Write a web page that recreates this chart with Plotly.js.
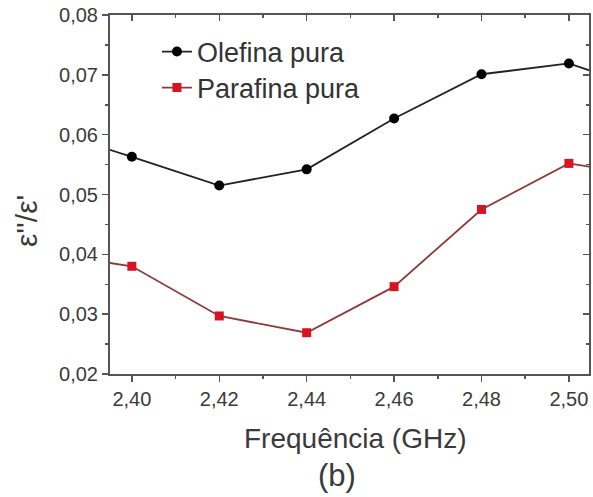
<!DOCTYPE html>
<html>
<head>
<meta charset="utf-8">
<script src="https://cdn.plot.ly/plotly-3.0.1.min.js"></script>
<style>html,body{margin:0;padding:0;background:#fff;}#chart{width:593px;height:497px;}</style>
</head>
<body>
<div id="chart"></div>
<script>
// Frequency (GHz); first and last points lie just outside the visible range (line continues to the frame)
const freq = [2.38, 2.40, 2.42, 2.44, 2.46, 2.48, 2.50, 2.52];
const olefina = [0.0609, 0.0563, 0.0515, 0.0542, 0.0627, 0.0701, 0.0719, 0.0670];
const parafina = [0.0402, 0.0380, 0.0297, 0.0269, 0.0346, 0.0475, 0.0552, 0.0528];
const seriesNames = ["Olefina pura", "Parafina pura"];
const xTicks = [2.40, 2.42, 2.44, 2.46, 2.48, 2.50];
const yTicks = [0.02, 0.03, 0.04, 0.05, 0.06, 0.07, 0.08];
const xTitle = "Frequência (GHz)";
const yTitle = "ε''/ε'";
const panel = "(b)";

const FONT = "Liberation Sans, Arial, sans-serif";
const AX = "#555555";
const xr = [2.395, 2.5046];
const yr = [0.02, 0.08];

const traces = [
  {x: freq, y: olefina, name: seriesNames[0], type: "scatter", mode: "lines+markers", legend: "legend",
   line: {color: "#222222", width: 1.8}, marker: {symbol: "circle", size: 10, color: "#000000"}},
  {x: freq, y: parafina, name: seriesNames[1], type: "scatter", mode: "lines+markers", legend: "legend2",
   line: {color: "#8e3a3a", width: 1.8}, marker: {symbol: "square", size: 9, color: "#d81420"}},
  {x: [xr[0]], y: [yr[0]], xaxis: "x2", yaxis: "y2", mode: "markers", marker: {opacity: 0}, showlegend: false, hoverinfo: "skip"}
];

const baseAxis = {showgrid: false, zeroline: false, showline: true, linecolor: AX, linewidth: 2,
  tickcolor: AX, tickwidth: 1.5, ticklen: 6, tickfont: {family: FONT, size: 20, color: "#3a3a3a"}};

const legendBase = {xanchor: "left", yanchor: "middle", bgcolor: "rgba(0,0,0,0)",
  font: {family: FONT, size: 27, color: "#333333"}, tracegroupgap: 0, itemwidth: 30};

const layout = {
  width: 593, height: 497,
  margin: {l: 110, r: 4, t: 15, b: 123},
  paper_bgcolor: "#ffffff", plot_bgcolor: "#ffffff",
  separators: ",.",
  showlegend: true,
  legend: Object.assign({}, legendBase, {x: 0.098, y: (374 - 52) / 359}),
  legend2: Object.assign({}, legendBase, {x: 0.098, y: (374 - 88) / 359}),
  xaxis: Object.assign({}, baseAxis, {range: xr, tickvals: xTicks, tickformat: ".2f", ticks: "outside",
    minor: {dtick: 0.01, ticks: "outside", ticklen: 3, tickcolor: AX}}),
  yaxis: Object.assign({}, baseAxis, {range: yr, tickvals: yTicks, tickformat: ".2f", ticks: "outside",
    minor: {dtick: 0.005, ticks: "outside", ticklen: 3, tickcolor: AX}}),
  xaxis2: Object.assign({}, baseAxis, {range: xr, overlaying: "x", side: "top", anchor: "y2", tickvals: xTicks,
    ticks: "inside", showticklabels: false, minor: {dtick: 0.01, ticks: "inside", ticklen: 3, tickcolor: AX}}),
  yaxis2: Object.assign({}, baseAxis, {range: yr, overlaying: "y", side: "right", anchor: "x2", tickvals: yTicks,
    ticks: "inside", showticklabels: false, minor: {dtick: 0.005, ticks: "inside", ticklen: 3, tickcolor: AX}}),
  annotations: [
    {text: xTitle, xref: "paper", yref: "paper", x: (355 - 110) / 479, y: -(438 - 374) / 359, xanchor: "center", yanchor: "middle",
      showarrow: false, font: {family: FONT, size: 28, color: "#3a3a3a"}},
    {text: panel, xref: "paper", yref: "paper", x: (337 - 110) / 479, y: -(475 - 374) / 359, xanchor: "center", yanchor: "middle",
      showarrow: false, font: {family: FONT, size: 31, color: "#3a3a3a"}},
    {text: yTitle, xref: "paper", yref: "paper", x: -(110 - 26) / 479, y: (374 - 221) / 359, xanchor: "center", yanchor: "middle",
      textangle: -90, showarrow: false, font: {family: FONT, size: 30, color: "#3a3a3a"}}
  ]
};

Plotly.newPlot("chart", traces, layout, {displayModeBar: false, staticPlot: true});
</script>
</body>
</html>
